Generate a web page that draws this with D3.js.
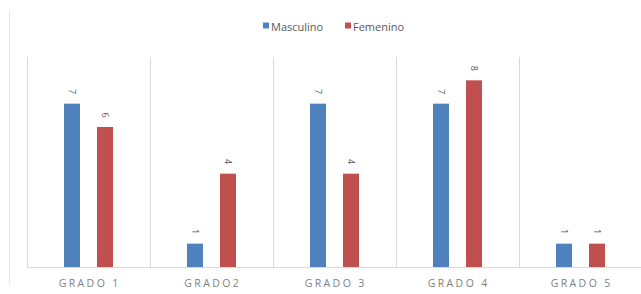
<!DOCTYPE html>
<html>
<head>
<meta charset="utf-8">
<script src="https://cdn.jsdelivr.net/npm/d3@7"></script>
<style>
  html, body { margin: 0; padding: 0; background: #fff; }
  svg { display: block; font-family: "Open Sans", "DejaVu Sans", sans-serif; }
</style>
</head>
<body>
<svg id="chart" width="641" height="294"></svg>
<script>
// data
let categories = ["GRADO 1", "GRADO2", "GRADO 3", "GRADO 4", "GRADO 5"];
let seriesNames = ["Masculino", "Femenino"];
let masculino = [7, 1, 7, 7, 1];
let femenino = [6, 4, 4, 8, 1];
let colors = ["#4f81bd", "#c0504d"];

let svg = d3.select("#chart");
let plotLeft = 27, plotRight = 642, plotTop = 57, plotBottom = 267;

let x0 = d3.scaleBand()
    .domain(categories)
    .range([plotLeft, plotRight])
    .padding(0);

// pair of bars sits in the middle of each category
let mid = x0.bandwidth() / 2;
let x1 = d3.scaleBand()
    .domain(seriesNames)
    .range([mid - 33, mid + 33])
    .paddingInner(0.515)
    .paddingOuter(0.2575);

let y = d3.scaleLinear()
    .domain([0, 9])
    .range([plotBottom, plotTop]);

let color = d3.scaleOrdinal().domain(seriesNames).range(colors);

// outer frame line on the left
svg.append("line")
    .attr("x1", 9.5).attr("x2", 9.5)
    .attr("y1", 10).attr("y2", 284)
    .attr("stroke", "#e4e4e4");

// category dividers (plot left edge included)
svg.append("g")
    .selectAll("line")
    .data(categories)
    .enter()
    .append("line")
    .attr("x1", d => Math.round(x0(d)) + 0.5)
    .attr("x2", d => Math.round(x0(d)) + 0.5)
    .attr("y1", y(9))
    .attr("y2", y(0))
    .attr("stroke", "#d9d9d9");

// baseline
svg.append("line")
    .attr("x1", plotLeft).attr("x2", plotRight)
    .attr("y1", y(0) + 0.5).attr("y2", y(0) + 0.5)
    .attr("stroke", "#d9d9d9");

let rows = categories.map((c, i) => ({
    cat: c,
    vals: [
        { name: seriesNames[0], value: masculino[i] },
        { name: seriesNames[1], value: femenino[i] }
    ]
}));

let group = svg.append("g")
    .selectAll("g")
    .data(rows)
    .enter()
    .append("g")
    .attr("transform", d => "translate(" + x0(d.cat) + ",0)");

group.selectAll("rect")
    .data(d => d.vals)
    .enter()
    .append("rect")
    .attr("x", d => x1(d.name))
    .attr("width", x1.bandwidth())
    .attr("y", d => y(d.value))
    .attr("height", d => y(0) - y(d.value))
    .attr("fill", d => color(d.name));

// rotated value labels
group.selectAll("text")
    .data(d => d.vals)
    .enter()
    .append("text")
    .attr("transform", d => "translate(" + (x1(d.name) + x1.bandwidth() / 2) + "," + (y(d.value) - 12) + ") rotate(90)")
    .attr("text-anchor", "middle")
    .attr("dominant-baseline", "central")
    .attr("font-size", 9)
    .attr("fill", "#595959")
    .text(d => d.value);

// category labels
svg.append("g")
    .selectAll("text")
    .data(categories)
    .enter()
    .append("text")
    .attr("x", d => x0(d) + x0.bandwidth() / 2 + 1.2)
    .attr("y", 287)
    .attr("text-anchor", "middle")
    .attr("font-size", 10.5)
    .attr("letter-spacing", 2.4)
    .attr("fill", "#7f7f7f")
    .text(d => d);

// legend
let legend = svg.append("g").attr("transform", "translate(263,26)");
let lx = [0, 82];
seriesNames.forEach((s, i) => {
    legend.append("rect")
        .attr("x", lx[i]).attr("y", -3.5)
        .attr("width", 6).attr("height", 6)
        .attr("fill", colors[i]);
    legend.append("text")
        .attr("x", lx[i] + 8).attr("y", 0)
        .attr("dominant-baseline", "central")
        .attr("font-size", 11)
        .attr("fill", "#595959")
        .text(s);
});
</script>
</body>
</html>
